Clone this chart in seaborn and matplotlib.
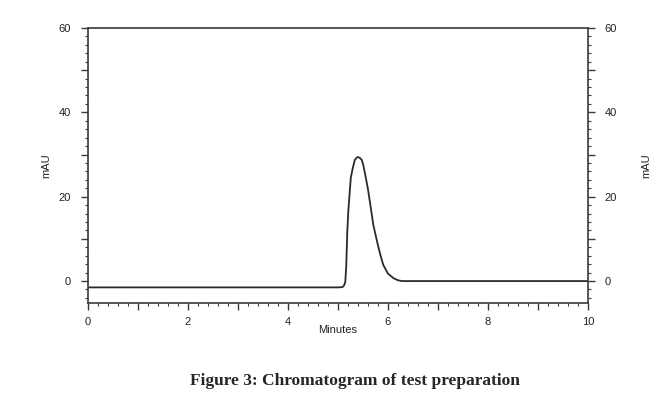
import matplotlib
matplotlib.use("Agg")
import matplotlib.pyplot as plt
from matplotlib.ticker import MultipleLocator, FuncFormatter
import seaborn as sns
import pandas as pd

# chromatogram trace (minutes, mAU)
minutes = [0.0, 1.0, 2.0, 3.0, 4.0, 5.0, 5.08, 5.11, 5.13, 5.15, 5.17, 5.19,
           5.21, 5.23, 5.26, 5.30, 5.34, 5.38, 5.41, 5.45, 5.48, 5.51, 5.56,
           5.60, 5.63, 5.67, 5.71, 5.76, 5.80, 5.86, 5.91, 6.00, 6.11, 6.20,
           6.28, 6.40, 7.0, 8.0, 9.0, 10.0]
mau = [-1.5, -1.5, -1.5, -1.5, -1.5, -1.5, -1.45, -1.3, -0.9, -0.2, 3.8, 11.7,
       16.5, 19.7, 24.5, 26.8, 28.7, 29.3, 29.4, 29.1, 28.7, 27.5, 24.5,
       22.0, 19.7, 16.5, 13.3, 10.7, 8.6, 5.8, 3.8, 1.8, 0.7, 0.2,
       0.0, 0.0, 0.0, 0.0, 0.0, 0.0]

y_labels = [0, 20, 40, 60]
x_labels = [0, 2, 4, 6, 8, 10]

df = pd.DataFrame({"Minutes": minutes, "mAU": mau})

sns.set_style("white")
plt.rcParams["font.family"] = ["Liberation Sans", "DejaVu Sans"]

fig = plt.figure(figsize=(6.69, 3.97), dpi=100)
ax = fig.add_axes([0.1308, 0.2368, 0.7482, 0.6927])

sns.lineplot(data=df, x="Minutes", y="mAU", ax=ax, color="#2a2a2a",
             linewidth=1.3, estimator=None, sort=False)

ax.set_xlim(0, 10)
ax.set_ylim(-5.2, 60)

ax2 = ax.twinx()
ax2.set_ylim(ax.get_ylim())
ax2.set_yticks([])
ax2.set_ylabel("mAU", fontsize=8, color="#222222", labelpad=38, rotation=90)
for s in ax2.spines.values():
    s.set_visible(False)

ax.xaxis.set_major_locator(MultipleLocator(1))
ax.xaxis.set_minor_locator(MultipleLocator(0.2))
ax.yaxis.set_major_locator(MultipleLocator(10))
ax.yaxis.set_minor_locator(MultipleLocator(2))

ax.xaxis.set_major_formatter(FuncFormatter(
    lambda v, p: f"{int(round(v))}" if round(v) in x_labels and abs(v - round(v)) < 1e-6 else ""))
ax.yaxis.set_major_formatter(FuncFormatter(
    lambda v, p: f"{int(round(v))}" if round(v) in y_labels and abs(v - round(v)) < 1e-6 else ""))

for s in ax.spines.values():
    s.set_color("#3a3a3a")
    s.set_linewidth(1.2)

ax.tick_params(axis="both", which="major", direction="out", length=5, width=1,
               color="#3a3a3a", labelsize=8, labelcolor="#222222", pad=7)
ax.tick_params(axis="both", which="minor", direction="out", length=2.5, width=0.8,
               color="#3a3a3a")
ax.tick_params(axis="x", which="major", pad=5)
ax.tick_params(axis="y", which="both", left=True, right=True,
               labelleft=True, labelright=True)
ax.tick_params(axis="x", which="both", bottom=True)

ax.set_xlabel("Minutes", fontsize=8, color="#222222", labelpad=-1)
ax.set_ylabel("mAU", fontsize=8, color="#222222", labelpad=5)

fig.text(0.53, 0.04, "Figure 3: Chromatogram of test preparation",
         ha="center", va="center", fontsize=12.5, fontweight="bold",
         family=["Liberation Serif", "DejaVu Serif"])

fig.savefig("out.png", dpi=100)
